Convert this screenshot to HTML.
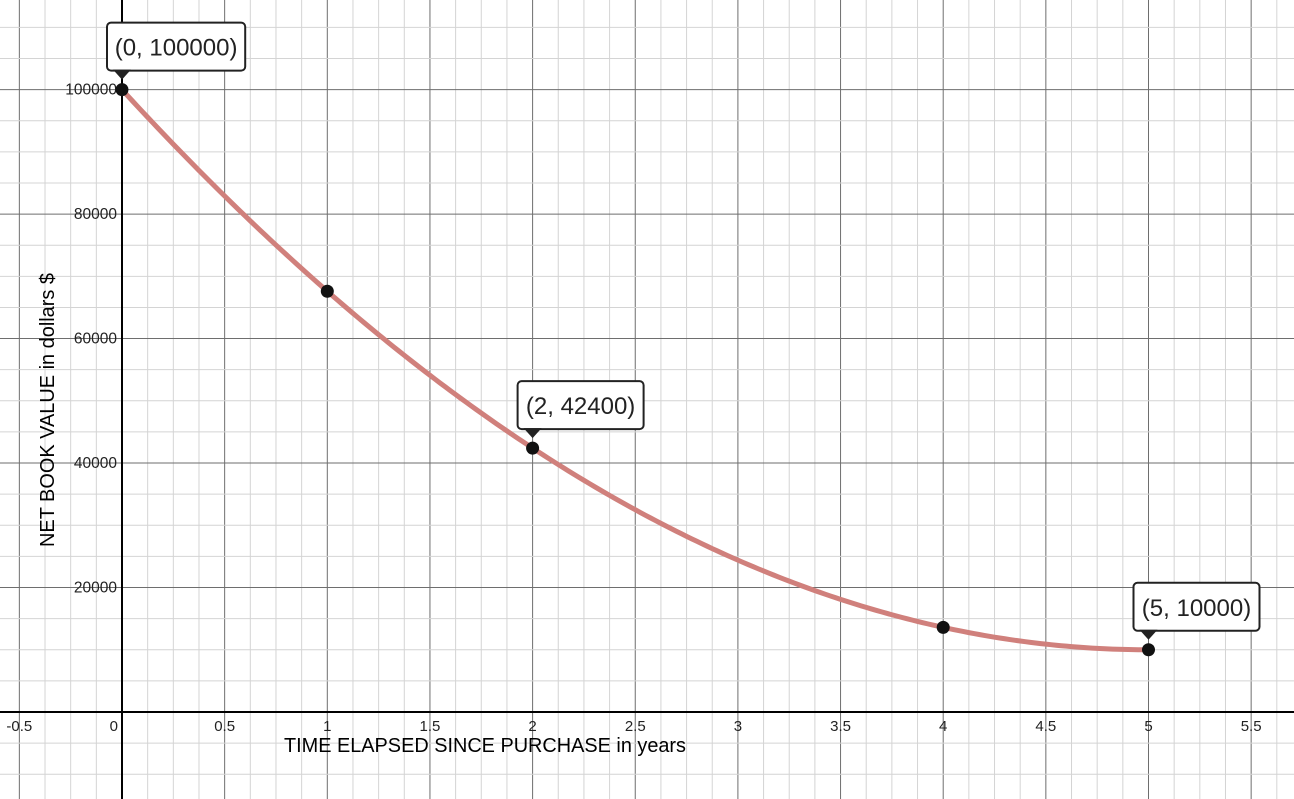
<!DOCTYPE html>
<html><head><meta charset="utf-8"><style>
html,body{margin:0;padding:0;background:#fff;}
svg{display:block;font-family:"Liberation Sans",Arial,sans-serif;}
</style></head><body>
<svg id="chart" width="1294" height="799" viewBox="0 0 1294 799" xmlns="http://www.w3.org/2000/svg">
<g id="grid"></g>
<g id="axes"></g>
<g id="ticks"></g>
<g id="curve"></g>
<g id="points"></g>
<g id="labels"></g>
<text x="284" y="752" font-size="20" fill="#000" textLength="402" lengthAdjust="spacingAndGlyphs">TIME ELAPSED SINCE PURCHASE in years</text>
<text transform="translate(54,410) rotate(-90)" text-anchor="middle" font-size="20" fill="#000" textLength="274" lengthAdjust="spacingAndGlyphs">NET BOOK VALUE in dollars $</text>
</svg>
<script>
const xTicks = [-0.5, 0.5, 1, 1.5, 2, 2.5, 3, 3.5, 4, 4.5, 5, 5.5];
const xTickLabels = ["-0.5","0.5","1","1.5","2","2.5","3","3.5","4","4.5","5","5.5"];
const yTicks = [20000, 40000, 60000, 80000, 100000];
const yTickLabels = ["20000","40000","60000","80000","100000"];
const pointX = [0, 1, 2, 4, 5];
const pointY = [100000, 67600, 42400, 13600, 10000];
const labelX = [0, 2, 5];
const labelY = [100000, 42400, 10000];
const labelText = ["(0, 100000)", "(2, 42400)", "(5, 10000)"];
const curveA = 3600, curveB = -36000, curveC = 100000;

const NS = "http://www.w3.org/2000/svg";
function sx(x){ return 122 + x * 205.3; }
function sy(y){ return 712 - y * 0.006224; }
function mk(tag, attrs, parent){
  const e = document.createElementNS(NS, tag);
  for (const k in attrs) e.setAttribute(k, attrs[k]);
  parent.appendChild(e); return e;
}
const grid = document.getElementById('grid');
for (let i = -5; i <= 50; i++) {
  const x = i * 0.125, px = sx(x);
  if (px < 0 || px > 1294) continue;
  const major = (i % 4 === 0);
  const l = mk('line', {x1:px, y1:0, x2:px, y2:799, stroke: major ? '#6e6e6e' : '#d4d4d4', 'stroke-width':1}, grid);
  
  
}
for (let i = -4; i <= 24; i++) {
  const y = i * 5000, py = sy(y);
  if (py < 0 || py > 799) continue;
  const major = (i % 4 === 0);
  const l = mk('line', {x1:0, y1:py, x2:1294, y2:py, stroke: major ? '#6e6e6e' : '#d4d4d4', 'stroke-width':1}, grid);
  
  
}
const axes = document.getElementById('axes');
const xa = mk('line', {x1:0, y1:sy(0), x2:1294, y2:sy(0), stroke:'#000', 'stroke-width':2}, axes);


const ya = mk('line', {x1:sx(0), y1:0, x2:sx(0), y2:799, stroke:'#000', 'stroke-width':2}, axes);



const ticks = document.getElementById('ticks');
xTicks.forEach((v, i) => {
  const t = mk('text', {x:sx(v), y:sy(0)+19, 'text-anchor':'middle', 'font-size':15, fill:'#222'}, ticks);
  t.textContent = xTickLabels[i];
  
  
});
const z = mk('text', {x:sx(0)-4, y:sy(0)+19, 'text-anchor':'end', 'font-size':15, fill:'#222'}, ticks);
z.textContent = '0';


yTicks.forEach((v, i) => {
  const t = mk('text', {x:sx(0)-5, y:sy(v)+5, 'text-anchor':'end', 'font-size':15.5, fill:'#222'}, ticks);
  t.textContent = yTickLabels[i];
  
  
});

let d = '';
for (let k = 0; k <= 200; k++) {
  const x = 5 * k / 200, y = curveA*x*x + curveB*x + curveC;
  d += (k ? 'L' : 'M') + sx(x).toFixed(2) + ' ' + sy(y).toFixed(2);
}
const path = mk('path', {d:d, fill:'none', stroke:'#d0807c', 'stroke-width':5, 'stroke-linecap':'round'}, document.getElementById('curve'));



const pts = document.getElementById('points');
pointX.forEach((x, i) => {
  const c = mk('circle', {cx:sx(x), cy:sy(pointY[i]), r:6.5, fill:'#111'}, pts);
  
  
});

const labs = document.getElementById('labels');
labelX.forEach((x, i) => {
  const px = sx(x), py = sy(labelY[i]);
  const w = labelText[i].length * 12.2 + 4;
  const g = mk('g', {}, labs);
  
  
  mk('rect', {x:px-15, y:py-67, width:w, height:48, rx:4, fill:'#fff', stroke:'#222', 'stroke-width':2}, g);
  mk('path', {d:`M${px-9} ${py-20} L${px+9} ${py-20} L${px} ${py-10} Z`, fill:'#222'}, g);
  const t = mk('text', {x:px-15+w/2, y:py-34, 'text-anchor':'middle', 'font-size':24, fill:'#222'}, g);
  t.textContent = labelText[i];
});
</script>
</body></html>
